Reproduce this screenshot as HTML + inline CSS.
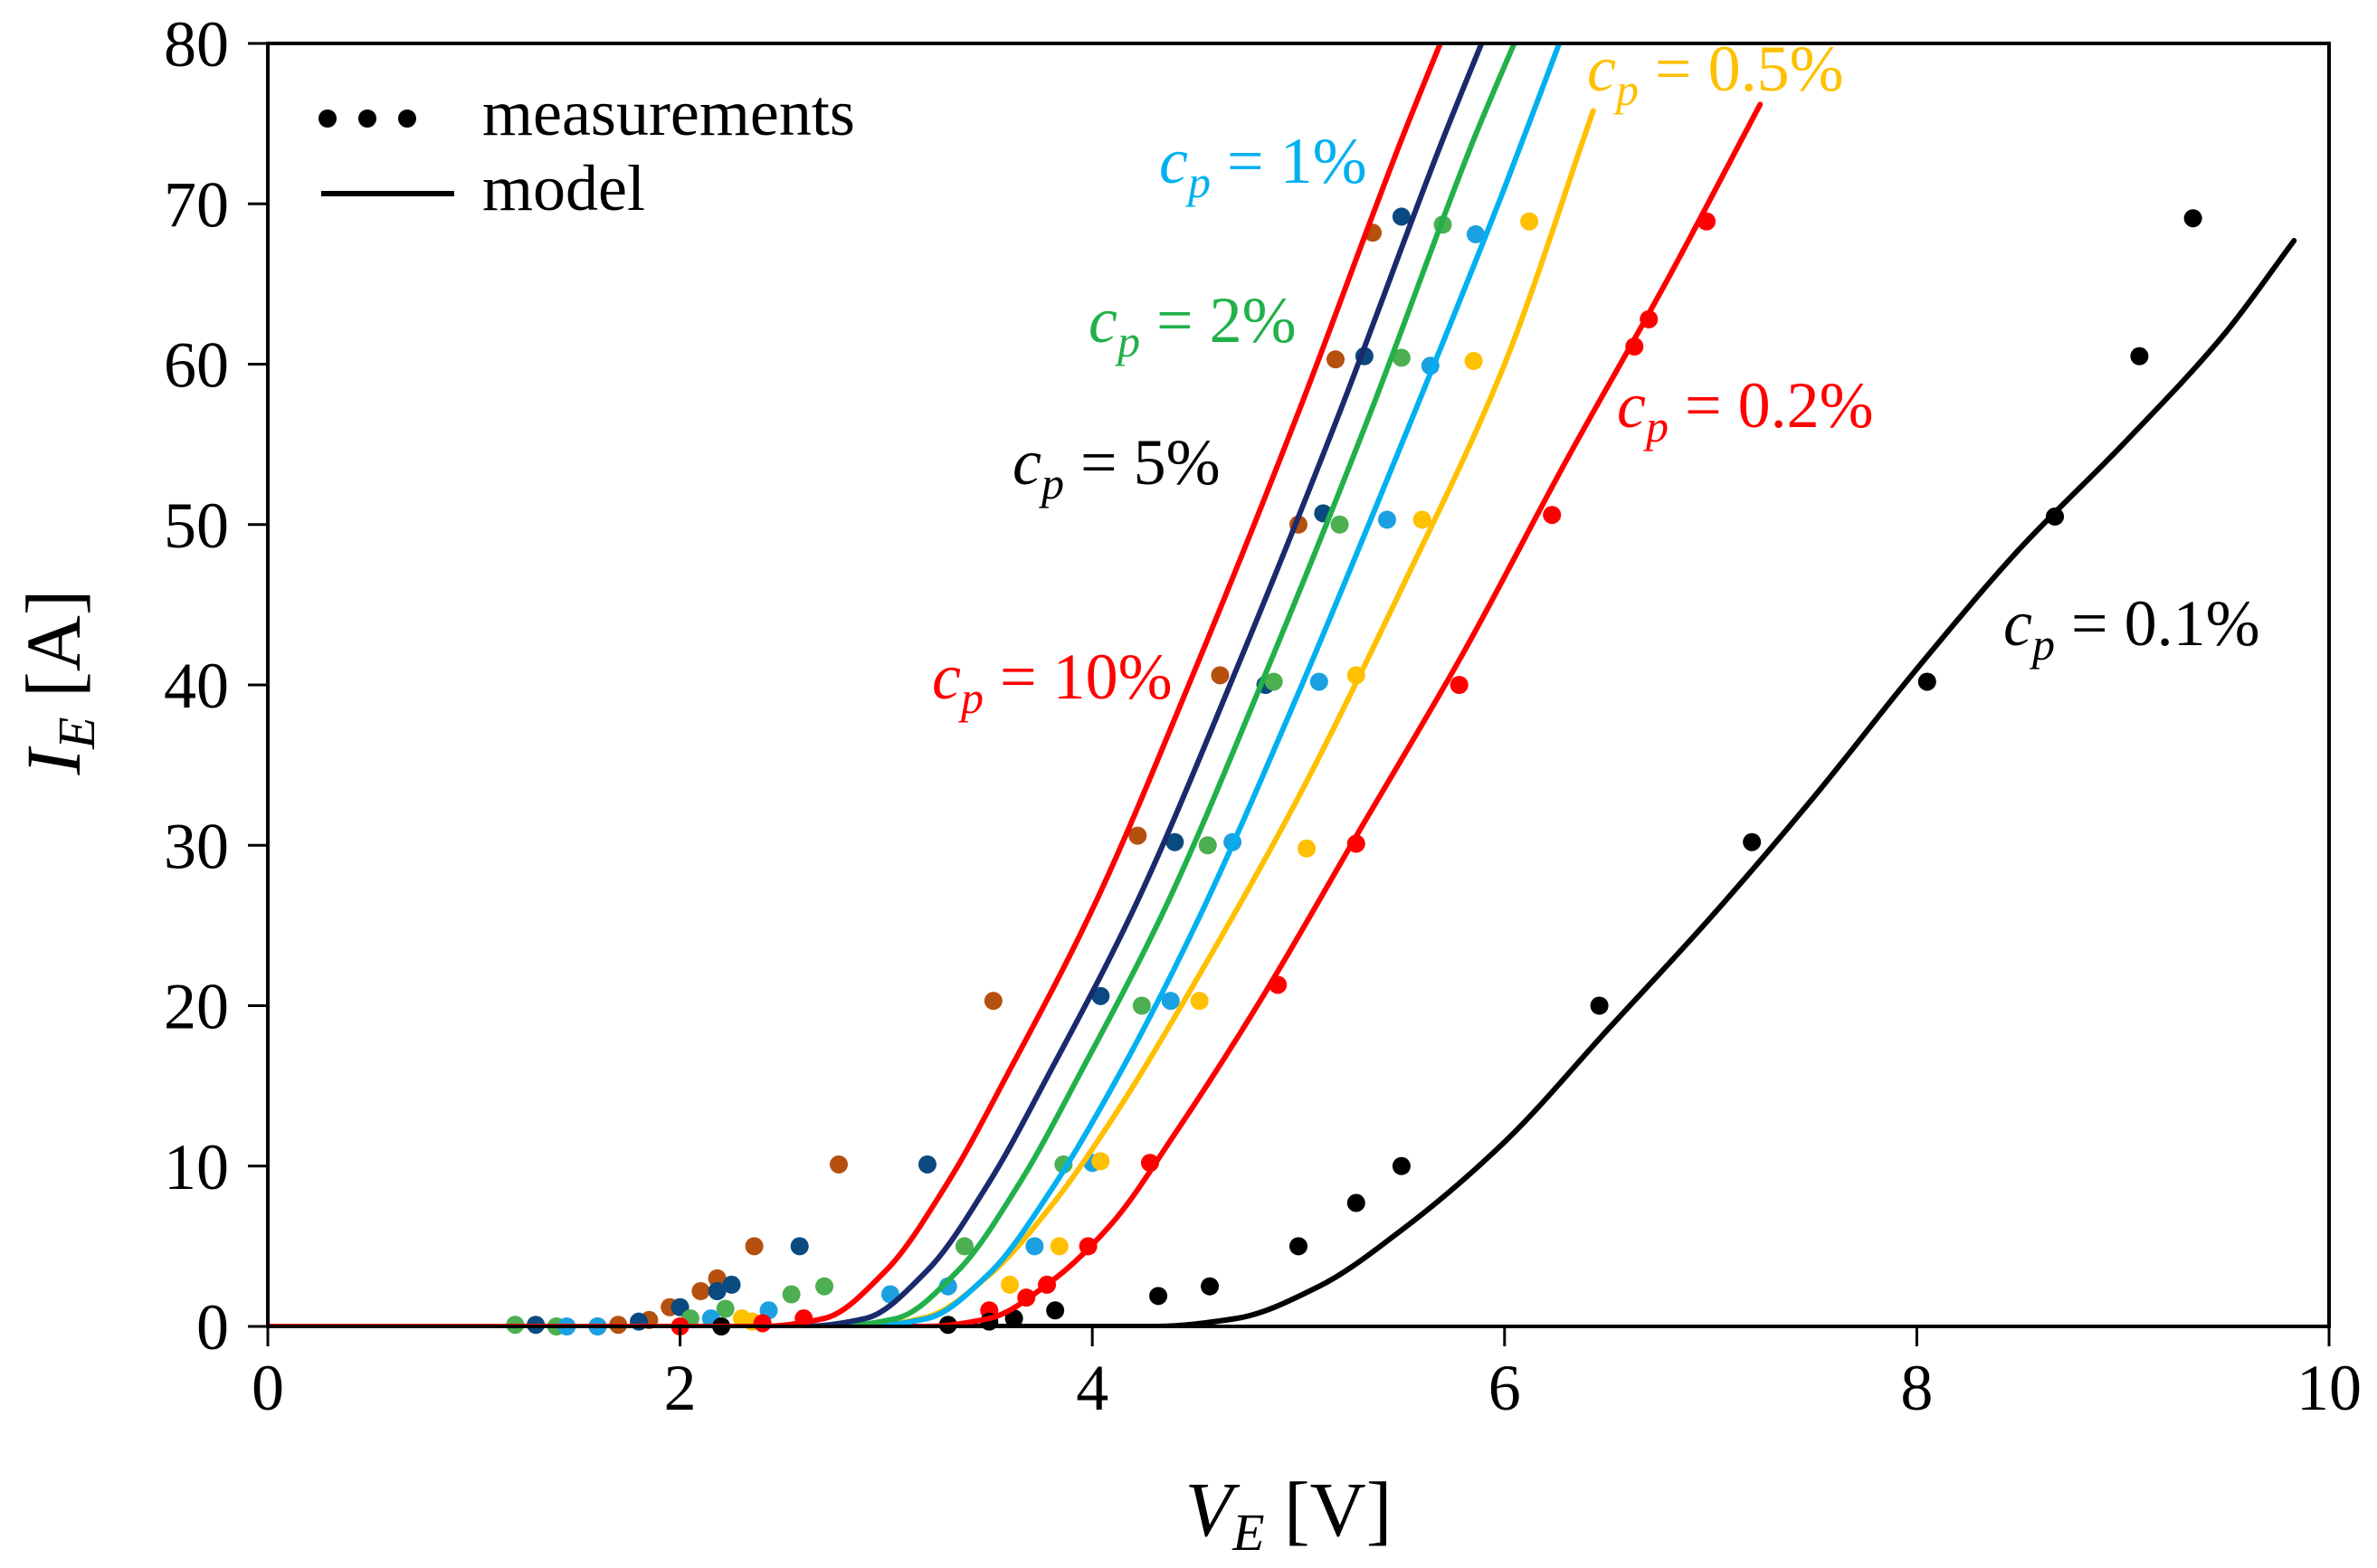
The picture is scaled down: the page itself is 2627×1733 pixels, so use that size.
<!DOCTYPE html>
<html><head><meta charset="utf-8"><style>
body{margin:0;background:#fff}
svg text{font-family:"Liberation Serif",serif;fill:#000}
</style></head><body>
<svg id="chart" width="2627" height="1728" viewBox="0 0 2627 1728" xmlns="http://www.w3.org/2000/svg">
<g id="marks"></g>
<g id="axes"></g>
<g>
<circle cx="362" cy="131" r="10" fill="#000"/><circle cx="406" cy="131" r="10" fill="#000"/><circle cx="450" cy="131" r="10" fill="#000"/>
<text x="533" y="149" font-size="72">measurements</text>
<line x1="355" y1="214" x2="502" y2="214" stroke="#000" stroke-width="6"/>
<text x="533" y="232" font-size="72">model</text>
</g>
<g font-size="72">
<text x="1281" y="202" style="fill:#00B0F0"><tspan font-style="italic">c</tspan><tspan font-style="italic" font-size="50" dy="16">p</tspan><tspan dy="-16"> = 1%</tspan></text>
<text x="1203" y="378" style="fill:#22B04A"><tspan font-style="italic">c</tspan><tspan font-style="italic" font-size="50" dy="16">p</tspan><tspan dy="-16"> = 2%</tspan></text>
<text x="1119" y="535" style="fill:#000"><tspan font-style="italic">c</tspan><tspan font-style="italic" font-size="50" dy="16">p</tspan><tspan dy="-16"> = 5%</tspan></text>
<text x="1030" y="772" style="fill:#FF0000"><tspan font-style="italic">c</tspan><tspan font-style="italic" font-size="50" dy="16">p</tspan><tspan dy="-16"> = 10%</tspan></text>
<text x="1754" y="100" style="fill:#FFC000"><tspan font-style="italic">c</tspan><tspan font-style="italic" font-size="50" dy="16">p</tspan><tspan dy="-16"> = 0.5%</tspan></text>
<text x="1787" y="472" style="fill:#FF0000"><tspan font-style="italic">c</tspan><tspan font-style="italic" font-size="50" dy="16">p</tspan><tspan dy="-16"> = 0.2%</tspan></text>
<text x="2214" y="713" style="fill:#000"><tspan font-style="italic">c</tspan><tspan font-style="italic" font-size="50" dy="16">p</tspan><tspan dy="-16"> = 0.1%</tspan></text>
</g>
<text x="1424" y="1697" font-size="86" text-anchor="middle"><tspan font-style="italic">V</tspan><tspan font-style="italic" font-size="58" dy="16">E</tspan><tspan dy="-16"> [V]</tspan></text>
<text transform="translate(88,754) rotate(-90)" font-size="86" text-anchor="middle"><tspan font-style="italic">I</tspan><tspan font-style="italic" font-size="58" dy="16">E</tspan><tspan dy="-16"> [A]</tspan></text>
</svg>
<script>
const xTicks=[0,2,4,6,8,10];
const yTicks=[0,10,20,30,40,50,60,70,80];
const seriesNames=["cp-10","cp-5","cp-2","cp-1","cp-0.5","cp-0.2","cp-0.1"];
const pointColors=["#B5500F","#0B4A80","#4CAF50","#1BA1E2","#FFC000","#FF0000","#000000"];
const lineColors=["#FF0000","#1A2A6C","#22B04A","#00B0F0","#FFC000","#FF0000","#000000"];
const model10V=[0,2.4,2.7,3.0,3.3,3.6,4.0,4.5,5.0,5.5,5.72];
const model10I=[0,0,0.5,3.5,9,16,26,41,57,74,81];
const model5V=[0,2.6,2.9,3.2,3.5,3.8,4.2,4.7,5.2,5.7,5.92];
const model5I=[0,0,0.5,3.5,9,16,26,41,57,74,81];
const model2V=[0,2.75,3.05,3.35,3.65,3.95,4.35,4.85,5.35,5.85,6.08];
const model2I=[0,0,0.5,3.5,9,16,26,41,57,74,81];
const model1V=[0,2.9,3.2,3.5,3.8,4.1,4.5,5.0,5.5,6.0,6.28];
const model1I=[0,0,0.5,3.3,8.5,15,25,39.5,55,71,80.5];
const model05V=[0,2.9,3.2,3.5,3.8,4.1,4.5,5.0,5.5,6.0,6.43];
const model05I=[0,0,0.6,3.2,7.5,13,21.5,33,46,60,75.8];
const model02V=[0,3.2,3.5,3.8,4.1,4.4,4.8,5.3,5.8,6.3,6.8,7.24];
const model02I=[0,0,0.5,2.8,6.5,12,20,31,42,54,65.5,76.2];
const model01V=[0,4.3,4.7,5.1,5.5,6.0,6.5,7.0,7.5,8.0,8.5,9.0,9.5,9.83];
const model01I=[0,0,0.5,2.5,6,11.5,18.5,25.5,33,41,48.5,55,62,67.7];
const meas10V=[1.6,1.7,1.85,1.95,2.1,2.18,2.36,2.77,3.52,4.22,4.62,5.0,5.18,5.36];
const meas10I=[0,0.1,0.4,1.2,2.2,3,5,10.1,20.3,30.6,40.6,50,60.3,68.2];
const meas5V=[1.3,1.8,2.0,2.18,2.25,2.58,3.2,4.04,4.4,4.84,5.12,5.32,5.5];
const meas5I=[0.1,0.3,1.2,2.2,2.6,5,10.1,20.6,30.2,40,50.7,60.5,69.2];
const meas2V=[1.2,1.4,2.05,2.22,2.54,2.7,3.38,3.86,4.24,4.56,4.88,5.2,5.5,5.7];
const meas2I=[0.1,0,0.5,1.1,2,2.5,5,10.1,20,30,40.2,50,60.4,68.7];
const meas1V=[1.45,1.6,2.15,2.43,3.02,3.3,3.72,4.0,4.38,4.68,5.1,5.43,5.64,5.86];
const meas1I=[0,0,0.5,1,2,2.5,5,10.2,20.3,30.2,40.2,50.3,59.9,68.1];
const meas05V=[2.3,2.35,3.6,3.84,4.04,4.52,5.04,5.28,5.6,5.85,6.12];
const meas05I=[0.5,0.3,2.6,5,10.3,20.3,29.8,40.6,50.3,60.2,68.9];
const meas02V=[2.0,2.4,2.6,3.5,3.68,3.78,3.98,4.28,4.9,5.28,5.78,6.23,6.63,6.7,6.98];
const meas02I=[0,0.2,0.5,1,1.8,2.6,5,10.2,21.3,30.1,40,50.6,61.1,62.8,68.9];
const meas01V=[2.2,3.3,3.5,3.62,3.82,4.32,4.57,5.0,5.28,5.5,6.46,7.2,8.05,8.67,9.08,9.34];
const meas01I=[0,0.1,0.3,0.5,1,1.9,2.5,5,7.7,10,20,30.2,40.2,50.5,60.5,69.1];

const X0=296,X1=2574,Y0=1466,Y1=48;
function sx(v){return X0+(v-0)/(10-0)*(X1-X0);}
function sy(v){return Y0-(v-0)/(80-0)*(Y0-Y1);}
const NS="http://www.w3.org/2000/svg";
const marks=document.getElementById('marks'),axes=document.getElementById('axes');
const modelsV=[model10V,model5V,model2V,model1V,model05V,model02V,model01V];
const modelsI=[model10I,model5I,model2I,model1I,model05I,model02I,model01I];
const measV=[meas10V,meas5V,meas2V,meas1V,meas05V,meas02V,meas01V];
const measI=[meas10I,meas5I,meas2I,meas1I,meas05I,meas02I,meas01I];
const clip=document.createElementNS(NS,'clipPath');clip.id='pa';
const cr=document.createElementNS(NS,'rect');cr.setAttribute('x',X0);cr.setAttribute('y',Y1);cr.setAttribute('width',X1-X0);cr.setAttribute('height',Y0-Y1);
clip.appendChild(cr);marks.appendChild(clip);
// monotone cubic (Fritsch-Carlson) path
function smoothPath(pts){
  const n=pts.length,dx=[],sl=[],m=[];
  for(let i=0;i<n-1;i++){dx[i]=pts[i+1][0]-pts[i][0];sl[i]=(pts[i+1][1]-pts[i][1])/dx[i];}
  m[0]=sl[0];m[n-1]=sl[n-2];
  for(let i=1;i<n-1;i++){m[i]=(sl[i-1]*sl[i]<=0)?0:(3*(dx[i-1]+dx[i]))/((2*dx[i]+dx[i-1])/sl[i-1]+(dx[i]+2*dx[i-1])/sl[i]);}
  let d='M'+pts[0][0]+','+pts[0][1];
  for(let i=0;i<n-1;i++){
    const h=dx[i]/3;
    d+=' C'+(pts[i][0]+h)+','+(pts[i][1]+m[i]*h)+' '+(pts[i+1][0]-h)+','+(pts[i+1][1]-m[i+1]*h)+' '+pts[i+1][0]+','+pts[i+1][1];
  }
  return d;
}
for(let s=0;s<7;s++){
  for(let i=0;i<measV[s].length;i++){
    const c=document.createElementNS(NS,'circle');
    
    
    c.setAttribute('cx',sx(measV[s][i]));c.setAttribute('cy',sy(measI[s][i]));
    c.setAttribute('r',10);c.setAttribute('fill',pointColors[s]);
    marks.appendChild(c);
  }
}
for(let s=6;s>=0;s--){
  const p=document.createElementNS(NS,'path');
  
  
  p.setAttribute('d',smoothPath(modelsV[s].map((v,i)=>[sx(v),sy(modelsI[s][i])])));
  p.setAttribute('fill','none');p.setAttribute('stroke',lineColors[s]);p.setAttribute('stroke-width',6);
  p.setAttribute('stroke-linecap','round');p.setAttribute('clip-path','url(#pa)');
  marks.appendChild(p);
}
const frame=document.createElementNS(NS,'rect');


frame.setAttribute('x',X0);frame.setAttribute('y',Y1);frame.setAttribute('width',X1-X0);frame.setAttribute('height',Y0-Y1);
frame.setAttribute('fill','none');frame.setAttribute('stroke','#000');frame.setAttribute('stroke-width',4);
axes.appendChild(frame);
xTicks.forEach(t=>{
  const l=document.createElementNS(NS,'line');
  
  
  l.setAttribute('x1',sx(t));l.setAttribute('x2',sx(t));l.setAttribute('y1',Y0);l.setAttribute('y2',Y0+22);
  l.setAttribute('stroke','#000');l.setAttribute('stroke-width',3);axes.appendChild(l);
  const tx=document.createElementNS(NS,'text');
  
  
  tx.setAttribute('x',sx(t));tx.setAttribute('y',1558);tx.setAttribute('font-size',72);tx.setAttribute('text-anchor','middle');
  tx.textContent=t;axes.appendChild(tx);
});
yTicks.forEach(t=>{
  const l=document.createElementNS(NS,'line');
  
  
  l.setAttribute('x1',X0-22);l.setAttribute('x2',X0);l.setAttribute('y1',sy(t));l.setAttribute('y2',sy(t));
  l.setAttribute('stroke','#000');l.setAttribute('stroke-width',3);axes.appendChild(l);
  const tx=document.createElementNS(NS,'text');
  
  
  tx.setAttribute('x',253);tx.setAttribute('y',sy(t)+25);tx.setAttribute('font-size',72);tx.setAttribute('text-anchor','end');
  tx.textContent=t;axes.appendChild(tx);
});
</script>
</body></html>
